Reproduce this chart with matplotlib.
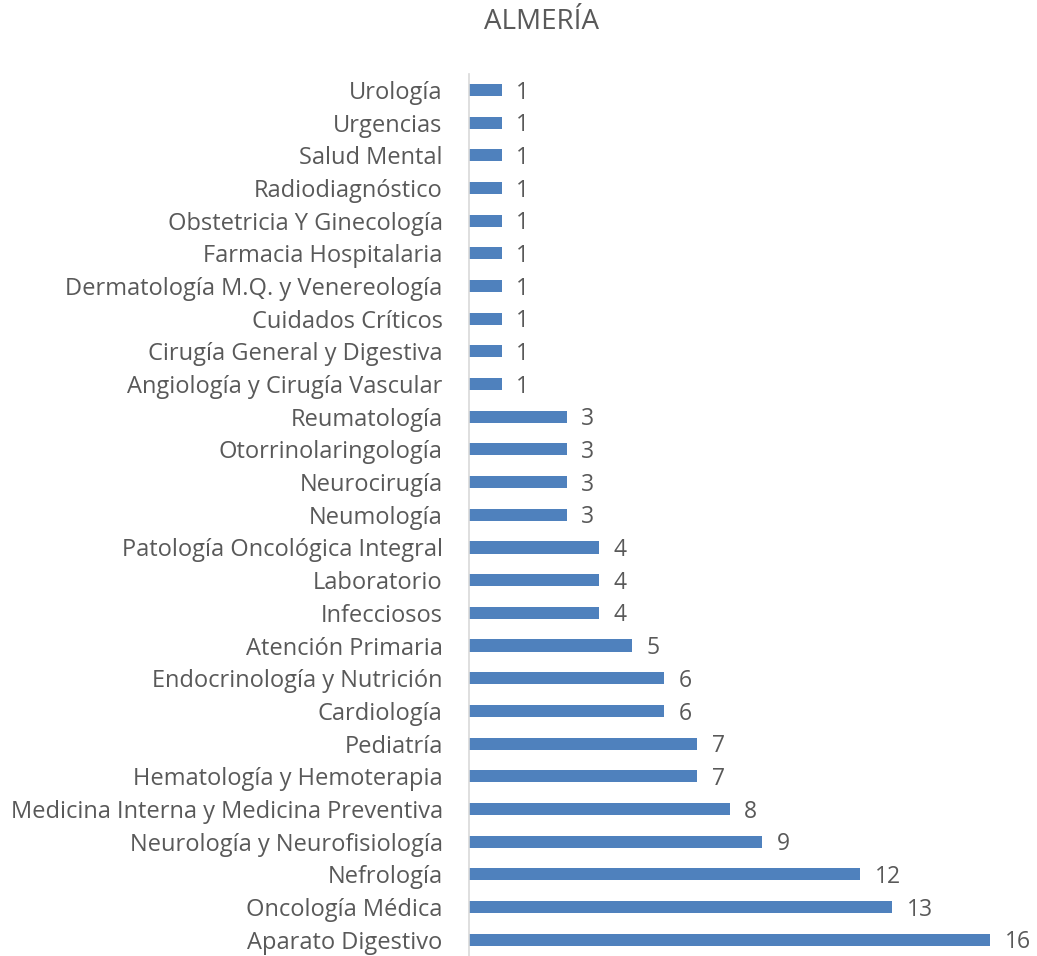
import matplotlib
matplotlib.use("Agg")
import matplotlib.pyplot as plt
import numpy as np

# categories top -> bottom as shown in the chart
categorias = [
    "Urología", "Urgencias", "Salud Mental", "Radiodiagnóstico",
    "Obstetricia Y Ginecología", "Farmacia Hospitalaria",
    "Dermatología M.Q. y Venereología", "Cuidados Críticos",
    "Cirugía General y Digestiva", "Angiología y Cirugía Vascular",
    "Reumatología", "Otorrinolaringología", "Neurocirugía", "Neumología",
    "Patología Oncológica Integral", "Laboratorio", "Infecciosos",
    "Atención Primaria", "Endocrinología y Nutrición", "Cardiología",
    "Pediatría", "Hematología y Hemoterapia",
    "Medicina Interna y Medicina Preventiva", "Neurología y Neurofisiología",
    "Nefrología", "Oncología Médica", "Aparato Digestivo",
]
valores = [1, 1, 1, 1, 1, 1, 1, 1, 1, 1, 3, 3, 3, 3, 4, 4, 4, 5, 6, 6, 7, 7, 8, 9, 12, 13, 16]

plt.rcParams['font.family'] = ['Open Sans', 'DejaVu Sans']
texto = '#595959'

fig = plt.figure(figsize=(10.37, 9.56), dpi=100)
ax = fig.add_axes([0.4523, 0.0, 0.5024, 0.923])

n = len(categorias)
y = np.arange(n)[::-1]
ax.barh(y, valores, height=0.37, color='#4F81BD')

for yi, v in zip(y, valores):
    ax.text(v + 0.45, yi - 0.08, str(v), va='center', ha='left',
            fontsize=16.5, color=texto, clip_on=False)

ax.set_yticks(y)
ax.set_yticklabels(categorias, fontsize=17, color=texto)
ax.set_ylim(-0.5, n - 0.5)
ax.set_xlim(0, 16)
ax.set_xticks([])
ax.tick_params(axis='y', length=0, pad=19)

for s in ['top', 'right', 'bottom']:
    ax.spines[s].set_visible(False)
ax.spines['left'].set_color('#D9D9D9')
ax.spines['left'].set_linewidth(1.2)

fig.text(0.522, 0.977, "ALMERÍA", ha='center', va='center', fontsize=20, color=texto)

fig.savefig("out.png", dpi=100)
